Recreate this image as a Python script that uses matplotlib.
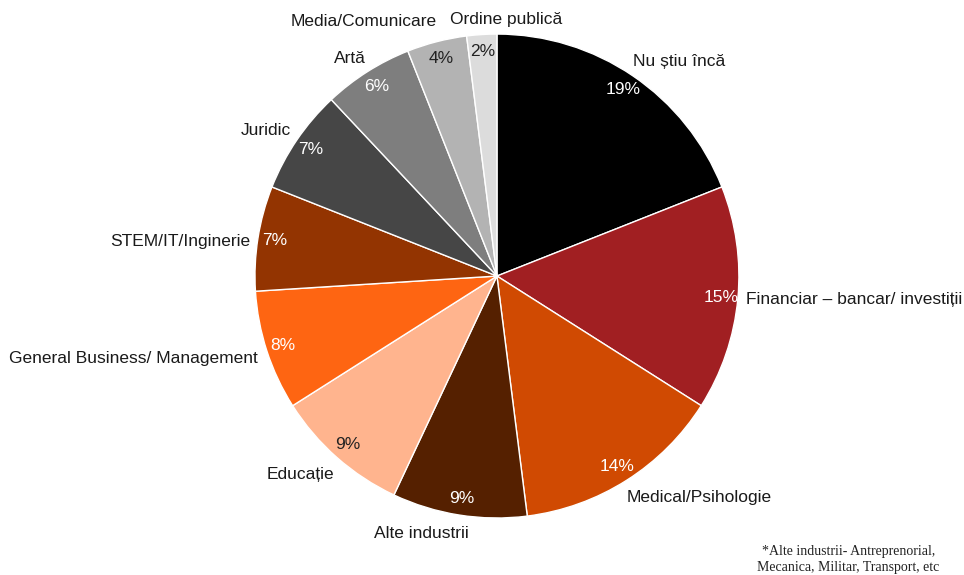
import numpy as np
import matplotlib
matplotlib.use("Agg")
import matplotlib.pyplot as plt

plt.rcParams['font.family'] = ['Liberation Sans', 'DejaVu Sans']

categories = ["Nu știu încă", "Financiar – bancar/ investiții", "Medical/Psihologie",
              "Alte industrii", "Educație", "General Business/ Management",
              "STEM/IT/Inginerie", "Juridic", "Artă", "Media/Comunicare", "Ordine publică"]
shares = [19, 15, 14, 9, 9, 8, 7, 7, 6, 4, 2]
colors = ["#000000", "#A11F22", "#D04A02", "#552000", "#FFB48E", "#FE6512",
          "#933401", "#464646", "#7E7E7E", "#B3B3B3", "#DCDCDC"]
pct_colors = ["white", "white", "white", "white", "#222222", "white",
              "white", "white", "white", "#222222", "#222222"]
footnote = "*Alte industrii- Antreprenorial,\nMecanica, Militar, Transport, etc"

# label placement tweaks: (angle offset in degrees, radial distance, horizontal alignment)
label_style = [(1.8, 1.05, "left"), (0, 1.035, "left"), (-2, 1.06, "left"),
               (-7.4, 1.11, "center"), (2, 1.06, "right"), (1, 1.045, "right"),
               (1, 1.03, "right"), (-1, 1.04, "right"), (-1.4, 1.05, "right"),
               (-1.1, 1.08, "right"), (-5.6, 1.06, "center")]

fig = plt.figure(figsize=(9.64, 5.75), dpi=100)
ax = fig.add_axes([0.2645, 0.0991, 0.502, 0.8417])

wedges, _ = ax.pie(shares, colors=colors, startangle=90, counterclock=False,
                   wedgeprops=dict(edgecolor="white", linewidth=1))

for w, name, val, pc, (da, dist, ha) in zip(wedges, categories, shares, pct_colors, label_style):
    mid = np.deg2rad((w.theta1 + w.theta2) / 2)
    ax.text(0.93 * np.cos(mid), 0.93 * np.sin(mid), f"{val}%", color=pc,
            ha="center", va="center", fontsize=12.5)
    a = mid + np.deg2rad(da)
    ax.text(dist * np.cos(a), dist * np.sin(a), name, color="#1a1a1a",
            ha=ha, va="center", fontsize=12.5)

ax.set_xlim(-1, 1)
ax.set_ylim(-1, 1)
ax.set_aspect("equal")
ax.axis("off")

fig.text(0.88, 0.027, footnote, ha="center", va="center", fontsize=10,
         family="Liberation Serif", linespacing=1.25, color="#222222")

fig.savefig("out.png", dpi=100)
